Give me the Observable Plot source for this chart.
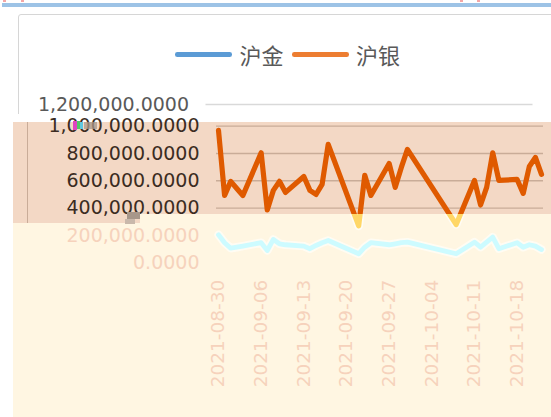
<!DOCTYPE html>
<html><head><meta charset="utf-8">
<script src="https://cdn.jsdelivr.net/npm/d3@7"></script>
<script src="https://cdn.jsdelivr.net/npm/@observablehq/plot@0.6"></script>
<style>
html,body{margin:0;padding:0;background:#fff;}
#root{position:relative;width:551px;height:417px;overflow:hidden;font-family:"DejaVu Sans",sans-serif;}
.abs{position:absolute;}
</style></head><body><div id="root"></div>
<script>
// ---- data ----
const dates = ["2021-08-30","2021-08-31","2021-09-01","2021-09-02","2021-09-03","2021-09-06","2021-09-07","2021-09-08","2021-09-09","2021-09-10","2021-09-13","2021-09-14","2021-09-15","2021-09-16","2021-09-17","2021-09-22","2021-09-23","2021-09-24","2021-09-27","2021-09-28","2021-09-29","2021-09-30","2021-10-08","2021-10-11","2021-10-12","2021-10-13","2021-10-14","2021-10-15","2021-10-18","2021-10-19","2021-10-20","2021-10-21","2021-10-22"];
const gold = [205000,147000,107000,114000,122000,147000,90000,171000,139000,132000,122000,103000,127000,147000,163000,66000,114000,147000,132000,139000,147000,151000,66000,151000,114000,151000,188000,103000,147000,114000,132000,122000,97000];
const silver = [969000,493000,596000,544000,493000,805000,387000,530000,596000,515000,632000,530000,500000,574000,867000,270000,640000,493000,727000,552000,698000,830000,280000,603000,423000,552000,805000,603000,610000,508000,705000,771000,647000];
const seriesNames = ["沪金","沪银"];
const seriesColors = ["#5B9BD5","#ED7D31"];
const xTicks = ["2021-08-30","2021-09-06","2021-09-13","2021-09-20","2021-09-27","2021-10-04","2021-10-11","2021-10-18"];
const yTicks = [0,200000,400000,600000,800000,1000000,1200000];

const parse = d3.utcParse("%Y-%m-%d");
const goldRows = dates.map((d,i)=>({date: parse(d), value: gold[i], series: seriesNames[0]}));
const silverRows = dates.map((d,i)=>({date: parse(d), value: silver[i], series: seriesNames[1]}));

// each layer shows only the tick labels that are visible in its region
function makePlot(th) {
  const marks = [
    Plot.gridY(yTicks.slice(1), {stroke: th.grid, strokeOpacity: 1, strokeWidth: 1.4}),
    Plot.axisY(yTicks.filter(th.yLabels), {tickSize: 0, tickPadding: 17, tickFormat: d3.format(",.4f"), fontSize: 19, fill: th.text, label: null})
  ];
  if (th.xLabels) {
    marks.push(Plot.axisX(xTicks.map(parse), {tickSize: 0, tickRotate: -90, tickPadding: 17, tickFormat: d3.utcFormat("%Y-%m-%d"), fontSize: 18.5, fill: th.text, label: null}));
  }
  if (th.halo) {
    marks.push(Plot.line(goldRows, {x: "date", y: "value", stroke: th.halo, strokeWidth: 8.5, strokeOpacity: 0.85, strokeLinejoin: "round", strokeLinecap: "round"}));
    marks.push(Plot.line(silverRows, {x: "date", y: "value", stroke: th.halo, strokeWidth: 8.5, strokeOpacity: 0.85, strokeLinejoin: "round", strokeLinecap: "round"}));
  }
  marks.push(Plot.line(goldRows, {x: "date", y: "value", stroke: th.gold, strokeWidth: 4.8, strokeLinejoin: "round", strokeLinecap: "round"}));
  marks.push(Plot.line(silverRows, {x: "date", y: "value", stroke: th.silver, strokeWidth: 5.2, strokeLinejoin: "round", strokeLinecap: "round"}));
  return Plot.plot({
    width: 551, height: 417,
    marginLeft: 216, marginRight: 8, marginTop: 98.3, marginBottom: 154.7,
    style: {background: "transparent", fontFamily: '"DejaVu Sans", sans-serif', overflow: "visible"},
    x: {type: "utc", domain: [parse(dates[0]), parse(dates[dates.length-1])], insetLeft: 2, insetRight: 2},
    y: {domain: [0, 1200000]},
    marks
  });
}

const root = document.getElementById("root");
function addDiv(css, parent) {
  const d = document.createElement("div");
  d.className = "abs";
  d.style.cssText = css;
  (parent || root).appendChild(d);
  return d;
}

// base layer (slightly shifted original chart)
const base = addDiv("left:0;top:0;width:551px;height:417px;transform:translate(-10.5px,5.7px);");
base.appendChild(makePlot({grid: "#D9D9D9", text: "#595959", gold: seriesColors[0], silver: seriesColors[1], yLabels: v => v >= 1200000, xLabels: false}));

// chart border + top strip
addDiv("left:18px;top:14px;width:560px;height:420px;border:1.5px solid #D6D6D6;border-radius:3px;box-sizing:border-box;");
addDiv("left:2px;top:3.3px;width:549px;height:3.4px;background:#9DC3E6;");
[[3,0,3],[21,0,3],[460,0,3],[477,0,3]].forEach(([x,y,w])=>addDiv(`left:${x}px;top:${y}px;width:${w}px;height:1.6px;background:#F4A6A6;`));

// legend
const legend = addDiv("left:0;top:0;width:551px;height:80px;");
const legendPos = [{sx: 174.6, tx: 239.5}, {sx: 291.6, tx: 356}];
seriesNames.forEach((name, i) => {
  const p = legendPos[i];
  addDiv(`left:${p.sx}px;top:52.2px;width:57.5px;height:4.6px;border-radius:2.3px;background:${seriesColors[i]};`, legend);
  const t = addDiv(`left:${p.tx}px;top:40px;font-family:'Noto Sans CJK SC',sans-serif;font-size:22px;line-height:28px;color:#595959;white-space:nowrap;`, legend);
  t.textContent = name;
});

// peach overlay layer
const peach = addDiv("left:0;top:0;width:551px;height:417px;background:linear-gradient(to bottom,#ffffff 0px,#ffffff 122px,#F3D8C5 122px);clip-path:polygon(13px 114px,551px 114px,551px 214px,140px 214px,140px 223px,13px 223px);");
addDiv("left:26.8px;top:122px;width:1.5px;height:110px;background:#C9AC98;", peach);
peach.appendChild(makePlot({grid: "#C9AC98", text: "#3B2C22", gold: "#3F82C4", silver: "#DF5A00", yLabels: v => v >= 400000 && v <= 1000000, xLabels: false}));

// cream overlay layer
const cream = addDiv("left:0;top:0;width:551px;height:417px;background:#FFF6E2;clip-path:polygon(140px 214px,551px 214px,551px 417px,13px 417px,13px 223px,140px 223px);");
cream.appendChild(makePlot({grid: "#FFF6E2", text: "#F6D2BC", gold: "#CDFBFF", silver: "#FFD767", halo: "#FFFDF6", yLabels: v => v <= 200000, xLabels: true}));

// small artifacts
addDiv("left:73px;top:121px;width:4px;height:9px;background:#E046C2;");
addDiv("left:77px;top:121px;width:3px;height:8px;background:#52C96A;");
addDiv("left:80px;top:122px;width:3px;height:7px;background:#5FC8E0;");
addDiv("left:84px;top:122px;width:13px;height:7px;background:#A8988B;opacity:0.75;");
addDiv("left:127px;top:212px;width:13px;height:7px;background:#A8978A;");
addDiv("left:125px;top:219px;width:10px;height:5px;background:#C9B8AB;");
</script></body></html>
